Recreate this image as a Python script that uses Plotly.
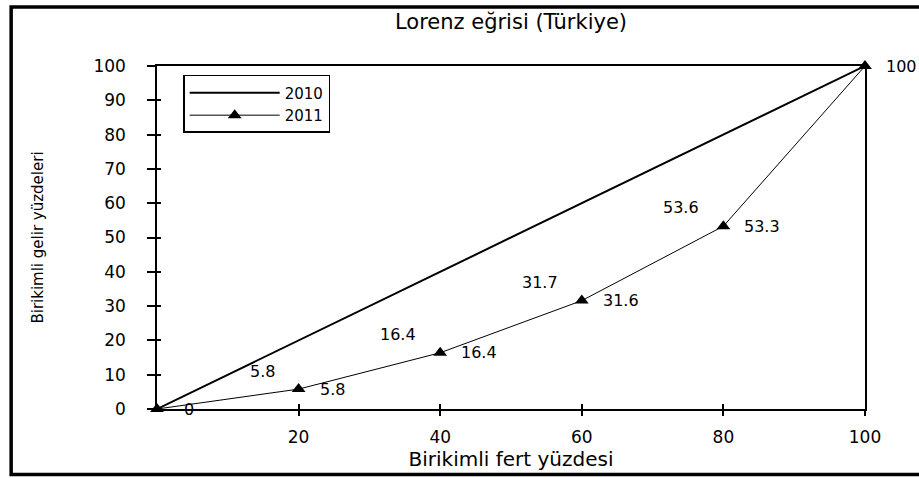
import plotly.graph_objects as go

# Birikimli fert yüzdesi (x) ve gelir yüzdeleri (y)
fert = [0, 20, 40, 60, 80, 100]
esitlik_2010 = [0, 20, 40, 60, 80, 100]
gelir_2010 = [0, 5.8, 16.4, 31.7, 53.6, 100]
gelir_2011 = [0, 5.8, 16.4, 31.6, 53.3, 100]
x_ticks = [20, 40, 60, 80, 100]
y_ticks = [0, 10, 20, 30, 40, 50, 60, 70, 80, 90, 100]

FONT = "DejaVu Sans"

fig = go.Figure()

fig.add_trace(go.Scatter(
    x=fert, y=esitlik_2010, mode='lines', name='2010',
    line=dict(color='black', width=2),
    cliponaxis=False))

fig.add_trace(go.Scatter(
    x=fert, y=gelir_2011, mode='lines+markers', name='2011',
    line=dict(color='black', width=1),
    marker=dict(symbol='triangle-up', size=12, color='black'),
    cliponaxis=False))

# boş iz: iç tik çizgileri için ikinci eksen
fig.add_trace(go.Scatter(x=[], y=[], xaxis='x2', yaxis='y2', showlegend=False))

# 2010 değer etiketleri (sol üstte)
for i in range(1, len(fert) - 1):
    fig.add_annotation(
        x=fert[i], y=gelir_2010[i], text=f"{gelir_2010[i]:g}",
        showarrow=False, xanchor='right', yanchor='middle',
        xshift=-22, yshift=18,
        font=dict(family=FONT, size=16, color='black'))

# 2011 değer etiketleri (sağda)
for i in range(len(fert)):
    fig.add_annotation(
        x=fert[i], y=gelir_2011[i], text=f"{gelir_2011[i]:g}",
        showarrow=False, xanchor='left', yanchor='middle',
        xshift=19 if i else 25, yshift=0,
        font=dict(family=FONT, size=16, color='black'))

# dış çerçeve
fig.add_shape(type='rect', xref='paper', yref='paper',
              x0=-0.206, x1=1.2, y0=-0.191, y1=1.172,
              line=dict(color='black', width=3.5), layer='below')

fig.update_layout(
    width=919, height=478,
    margin=dict(l=157, r=54, t=66, b=69, autoexpand=False),
    paper_bgcolor='white', plot_bgcolor='white',
    font=dict(family=FONT, size=16, color='black'),
    title=dict(text='Lorenz eğrisi (Türkiye)', x=0.5, xref='paper', xanchor='center',
               y=0.954, yanchor='middle', font=dict(family=FONT, size=21, color='black')),
    showlegend=True,
    legend=dict(x=0.037, y=0.974, xanchor='left', yanchor='top',
                bordercolor='black', borderwidth=1.5, bgcolor='white',
                font=dict(family=FONT, size=15), itemwidth=90),
    xaxis=dict(range=[0, 100], tickvals=x_ticks, showgrid=False, zeroline=False,
               showline=True, linecolor='black', linewidth=1.5, mirror=True,
               ticks='outside', ticklen=5, tickwidth=1.5, tickcolor='black',
               ticklabelstandoff=7, tickfont=dict(size=17), automargin=False,
               title=dict(text='Birikimli fert yüzdesi', standoff=6,
                          font=dict(size=20))),
    yaxis=dict(range=[0, 100], tickvals=y_ticks, showgrid=False, zeroline=False,
               showline=True, linecolor='black', linewidth=1.5, mirror=True,
               ticks='outside', ticklen=8, tickwidth=1.5, tickcolor='black',
               ticklabelstandoff=18, tickfont=dict(size=17), automargin=False,
               title=dict(text='Birikimli gelir yüzdeleri', standoff=46,
                          font=dict(size=15))),
    xaxis2=dict(range=[0, 100], overlaying='x', tickvals=x_ticks, showgrid=False,
                zeroline=False, showticklabels=False, ticks='inside', ticklen=5,
                tickwidth=1.5, tickcolor='black'),
    yaxis2=dict(range=[0, 100], overlaying='y', tickvals=y_ticks, showgrid=False,
                zeroline=False, showticklabels=False, ticks='inside', ticklen=4,
                tickwidth=1.5, tickcolor='black'),
)

fig.write_html("out.html", config={'displayModeBar': False},
               post_script="document.body.style.margin = '0';")
